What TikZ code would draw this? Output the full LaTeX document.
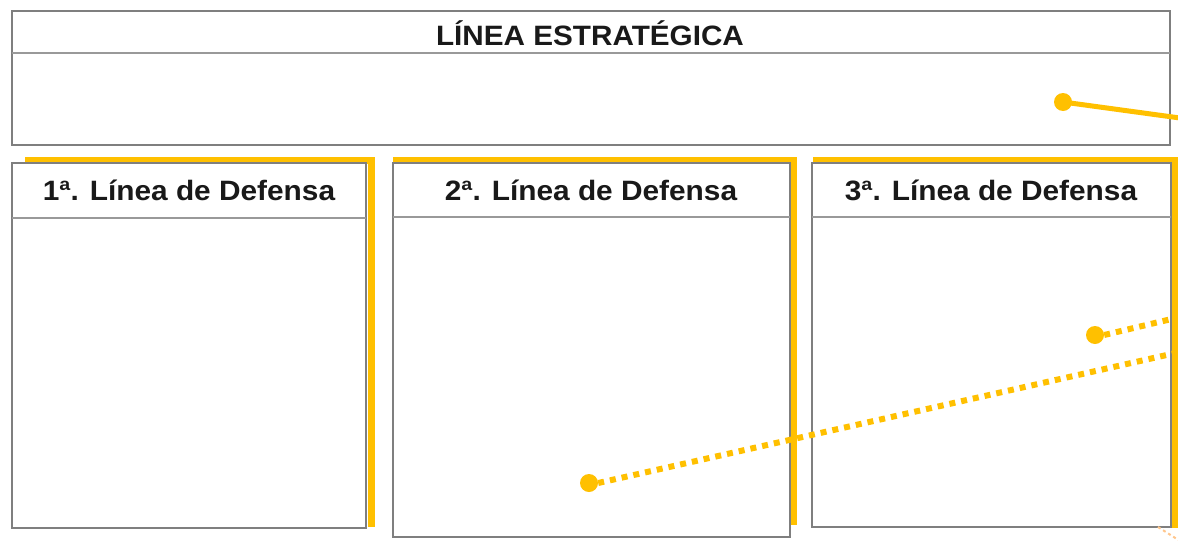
\documentclass[tikz,border=0pt]{standalone}
\usepackage{fontspec}
\setmainfont{Liberation Sans}
\usepackage{graphicx}
\definecolor{gold}{HTML}{FFC000}
\definecolor{boxgray}{HTML}{7F7F7F}
\begin{document}
\begin{tikzpicture}[x=1pt,y=1pt,
  box/.style={draw=boxgray, line width=2pt, fill=white, inner sep=0pt, outer sep=0pt, anchor=north west},
  divline/.style={draw=boxgray!80, line width=2pt},
  goldbar/.style={draw=gold, line width=7pt},
  hdr/.style={font=\fontsize{28}{30}\selectfont\bfseries, text=black!90, inner sep=0pt},
  dot/.style={circle, fill=gold, minimum size=18pt, inner sep=0pt},
  solidlink/.style={draw=gold, line width=5pt},
  dotlink/.style={draw=gold, line width=6pt, dash pattern=on 6pt off 6pt}
]
\useasboundingbox (0,0) rectangle (1178,-541);
% top box
\node[box, minimum width=1158pt, minimum height=134pt] (top) at (12,-11) {};
\draw[divline] (top.west |- 0,-53) -- (top.east |- 0,-53);
\node[font=\fontsize{28}{30}\selectfont\bfseries, text=black!90, inner sep=0pt] (title) at (590,-33) {\scalebox{1.06}[1]{LÍNEA ESTRATÉGICA}};
% gold frames
\draw[goldbar] (25,-160) -- (371.5,-160) -- (371.5,-527);
\draw[goldbar] (393,-160) -- (793.5,-160) -- (793.5,-525);
\draw[goldbar] (813,-160) -- (1174.5,-160) -- (1174.5,-528);
% columns
\node[box, minimum width=354pt, minimum height=365pt] (c1) at (12,-163) {};
\node[box, minimum width=397pt, minimum height=374pt] (c2) at (393,-163) {};
\node[box, minimum width=359pt, minimum height=364pt] (c3) at (812,-163) {};
\draw[divline] (c1.west |- 0,-218) -- (c1.east |- 0,-218);
\draw[divline] (c2.west |- 0,-217) -- (c2.east |- 0,-217);
\draw[divline] (c3.west |- 0,-217) -- (c3.east |- 0,-217);
\node[hdr] (h1) at (189,-190) {\scalebox{1.065}[1]{1ª. Línea de Defensa}};
\node[hdr] (h2) at (591,-190) {\scalebox{1.065}[1]{2ª. Línea de Defensa}};
\node[hdr] (h3) at (991,-190) {\scalebox{1.065}[1]{3ª. Línea de Defensa}};
% connectors
\node[dot] (d1) at (1063,-102) {};
\node[dot] (d2) at (1095,-335) {};
\node[dot] (d3) at (589,-483) {};
\coordinate (e1) at (1180,-118);
\coordinate (e2) at (1180,-317);
\coordinate (e3) at (1180,-352);
\coordinate (e4a) at (1158,-527);
\coordinate (e4b) at (1180,-541);
\draw[solidlink] (d1.center) -- (e1);
\draw[dotlink] (d2.east) -- (e2);
\draw[dotlink] (d3.east) -- (e3);
\draw[draw=orange!45, line width=2pt, dash pattern=on 3pt off 3pt] (e4a) -- (e4b);
\end{tikzpicture}
\end{document}
